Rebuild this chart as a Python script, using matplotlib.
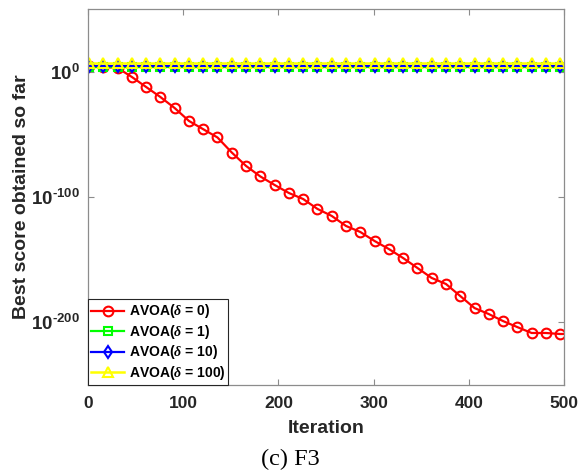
import numpy as np
import matplotlib
matplotlib.use("Agg")
import matplotlib.pyplot as plt
from matplotlib.ticker import FixedLocator, FuncFormatter

plt.rcParams['font.family'] = ['Liberation Sans', 'DejaVu Sans']
plt.rcParams['mathtext.fontset'] = 'custom'
plt.rcParams['mathtext.rm'] = 'Liberation Sans:bold'
plt.rcParams['mathtext.bf'] = 'Liberation Sans:bold'
plt.rcParams['mathtext.it'] = 'Liberation Serif:italic:bold'

# ---- data ----
iterations = [1, 16, 31, 46, 61, 76, 91, 106, 121, 136, 151, 166, 181, 196, 211,
              226, 241, 256, 271, 286, 301, 316, 331, 346, 361, 376, 391, 406,
              421, 436, 451, 466, 481, 496, 500]
log_red = [4.5, 3.7, 3.0, -4.2, -12.2, -20.2, -29.0, -39.3, -45.9, -52.5, -64.5,
           -75.2, -83.6, -90.4, -96.8, -101.6, -109.5, -115.1, -123.1, -127.9,
           -135.1, -141.5, -148.7, -156.6, -164.6, -169.4, -179.0, -188.6,
           -193.4, -199.0, -203.8, -208.5, -208.5, -209.3, -209.3]
val_green = 3.0e3
val_blue = 3.0e4
val_yellow = 1.0e7
labels = [r'AVOA($\mathit{\delta}$ = 0)', r'AVOA($\mathit{\delta}$ = 1)',
          r'AVOA($\mathit{\delta}$ = 10)', r'AVOA($\mathit{\delta}$ = 100)']
x_ticks = [0, 100, 200, 300, 400, 500]
y_tick_exps = [-200, -100, 0]

it = np.array(iterations)
red = 10.0 ** np.array(log_red)
green = np.full(len(it), val_green)
blue = np.full(len(it), val_blue)
yellow = np.full(len(it), val_yellow)
mk = list(range(len(it) - 1))

fig = plt.figure(figsize=(5.8, 4.71), dpi=100)
ax = fig.add_axes([88/580, 1 - 385/471, (564-88)/580, (385-9)/471])

ax.semilogy(it, red, color=(1, 0, 0), lw=1.6, marker='o', ms=7, mfc='none',
            mew=1.5, markevery=mk, label=labels[0])
ax.semilogy(it, green, color=(0, 1, 0), lw=1.6, marker='s', ms=5.5, mfc='none',
            mew=1.5, markevery=mk, label=labels[1])
ax.semilogy(it, blue, color=(0, 0, 1), lw=1.6, marker='d', ms=6.5, mfc='none',
            mew=1.5, markevery=mk, label=labels[2])
ax.semilogy(it, yellow, color=(1, 1, 0), lw=1.8, marker='^', ms=7.5, mfc='none',
            mew=1.5, markevery=mk, label=labels[3])

ax.set_xlim(0, 500)
ax.set_ylim(1e-250, 1e50)
ax.xaxis.set_major_locator(FixedLocator(x_ticks))
ax.yaxis.set_major_locator(FixedLocator([10.0 ** e for e in y_tick_exps]))
ax.yaxis.set_minor_locator(FixedLocator([]))


def yfmt(v, p):
    e = int(round(np.log10(v)))
    if e < 0:
        return r'$\mathregular{10^{\text{-}%d}}$' % (-e)
    return r'$\mathregular{10^{%d}}$' % e


ax.yaxis.set_major_formatter(FuncFormatter(yfmt))

for s in ax.spines.values():
    s.set_color('#8c8c8c')
    s.set_linewidth(0.9)
ax.tick_params(axis='both', which='both', direction='in', top=True, right=True,
               colors='#8c8c8c', labelcolor='#262626', length=4)
ax.tick_params(axis='x', pad=8, labelsize=12.5)
ax.tick_params(axis='y', pad=6, labelsize=13.5)
for t in ax.get_xticklabels() + ax.get_yticklabels():
    t.set_fontweight('bold')

ax.set_xlabel('Iteration', fontsize=14, fontweight='bold', color='#262626')
ax.set_ylabel('Best score obtained so far', fontsize=14, fontweight='bold',
              color='#262626')
ax.xaxis.set_label_coords(0.5, -0.094)
ax.yaxis.set_label_coords(-0.121, 0.5)

leg = ax.legend(loc='lower left', borderaxespad=0, fancybox=False,
                edgecolor='#262626', framealpha=1,
                prop={'weight': 'bold', 'size': 10}, handlelength=2.4,
                handletextpad=0.3, labelspacing=0.18, borderpad=0.22)
leg.get_frame().set_linewidth(0.8)

fig.text(290/580, 1 - 459/471, '(c) F3', ha='center', va='center',
         fontsize=17.5, family='Liberation Serif')

fig.savefig('out.png', dpi=100)
